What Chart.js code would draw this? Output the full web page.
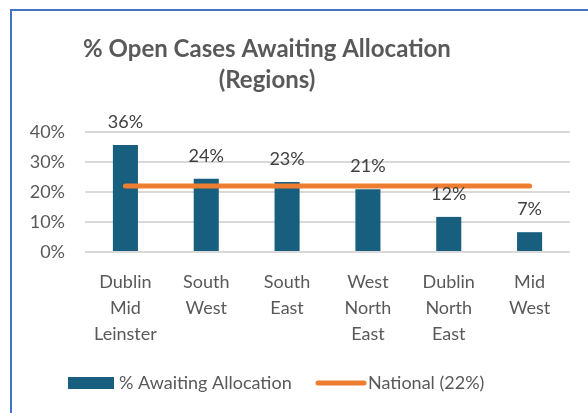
<!DOCTYPE html>
<html>
<head>
<meta charset="utf-8">
<script src="https://cdn.jsdelivr.net/npm/chart.js@4.4.0/dist/chart.umd.min.js"></script>
<style>
  html, body { margin: 0; padding: 0; background: #fff; }
  #wrap { width: 588px; height: 413px; }
</style>
</head>
<body>
<div id="wrap"><canvas id="chart" width="588" height="413"></canvas></div>
<script>
// chart data
const regions = [
  ['Dublin', 'Mid', 'Leinster'],
  ['South', 'West'],
  ['South', 'East'],
  ['West', 'North', 'East'],
  ['Dublin', 'North', 'East'],
  ['Mid', 'West']
];
const awaiting = [35.7, 24.4, 23.3, 20.9, 11.7, 6.6];
const national = [22, 22, 22, 22, 22, 22];
const yTicks = [0, 10, 20, 30, 40];
const titleLines = ['% Open Cases Awaiting Allocation', '(Regions)'];
const seriesNames = ['% Awaiting Allocation', 'National (22%)'];

const barColor = '#175E7F';
const lineColor = '#ED7D31';
const font = 'Lato';

// frame, title, value labels and legend drawn by hand
const extras = {
  id: 'extras',
  beforeDraw(chart) {
    const ctx = chart.ctx;
    ctx.save();
    ctx.fillStyle = '#fff';
    ctx.fillRect(0, 0, chart.width, chart.height);
    ctx.strokeStyle = '#4472C4';
    ctx.lineWidth = 2;
    ctx.beginPath();
    ctx.moveTo(11, chart.height);
    ctx.lineTo(11, 10);
    ctx.lineTo(chart.width, 10);
    ctx.stroke();
    ctx.restore();
  },
  afterDatasetsDraw(chart) {
    const ctx = chart.ctx;
    const meta = chart.getDatasetMeta(0);
    ctx.save();
    ctx.font = '18px ' + font;
    ctx.fillStyle = '#404040';
    ctx.textAlign = 'center';
    ctx.textBaseline = 'alphabetic';
    meta.data.forEach((bar, i) => {
      ctx.fillText(Math.round(awaiting[i]) + '%', bar.x, bar.y - 17);
    });
    ctx.restore();
  },
  afterDraw(chart) {
    const ctx = chart.ctx;
    ctx.save();
    // title
    ctx.font = 'bold 24px ' + font;
    ctx.fillStyle = '#595959';
    ctx.textAlign = 'center';
    ctx.textBaseline = 'alphabetic';
    ctx.fillText(titleLines[0], 267, 57);
    ctx.fillText(titleLines[1], 267, 88);
    // legend
    ctx.font = '18px ' + font;
    ctx.textAlign = 'left';
    ctx.fillStyle = barColor;
    ctx.fillRect(68, 377, 46, 12);
    ctx.fillStyle = '#595959';
    ctx.fillText(seriesNames[0], 119, 389);
    ctx.strokeStyle = lineColor;
    ctx.lineWidth = 5;
    ctx.lineCap = 'round';
    ctx.beginPath();
    ctx.moveTo(318, 383);
    ctx.lineTo(364, 383);
    ctx.stroke();
    ctx.fillText(seriesNames[1], 368, 389);
    ctx.restore();
  }
};

new Chart(document.getElementById('chart'), {
  type: 'bar',
  data: {
    labels: regions,
    datasets: [
      {
        label: seriesNames[0],
        data: awaiting,
        backgroundColor: barColor,
        categoryPercentage: 1,
        barPercentage: 0.31,
        order: 1
      },
      {
        type: 'line',
        label: seriesNames[1],
        data: national,
        borderColor: lineColor,
        backgroundColor: lineColor,
        borderWidth: 5,
        borderCapStyle: 'round',
        pointRadius: 0,
        order: 0
      }
    ]
  },
  options: {
    responsive: false,
    animation: false,
    layout: { padding: { left: 12, top: 132, right: 18, bottom: 0 } },
    plugins: {
      legend: { display: false },
      title: { display: false },
      tooltip: { enabled: false }
    },
    scales: {
      x: {
        grid: { display: false },
        border: { display: false },
        ticks: {
          autoSkip: false,
          maxRotation: 0,
          padding: 9,
          color: '#595959',
          font: { family: font, size: 18, lineHeight: 26 / 18 }
        },
        afterFit: (scale) => { scale.height = 161; }
      },
      y: {
        min: yTicks[0],
        max: yTicks[yTicks.length - 1],
        grid: { color: '#D9D9D9', lineWidth: 2, drawTicks: false },
        border: { display: false },
        ticks: {
          stepSize: 10,
          padding: 20,
          color: '#595959',
          font: { family: font, size: 18 },
          callback: (v) => v + '%'
        },
        afterFit: (scale) => { scale.width = 73; }
      }
    }
  },
  plugins: [extras]
});
</script>
</body>
</html>
